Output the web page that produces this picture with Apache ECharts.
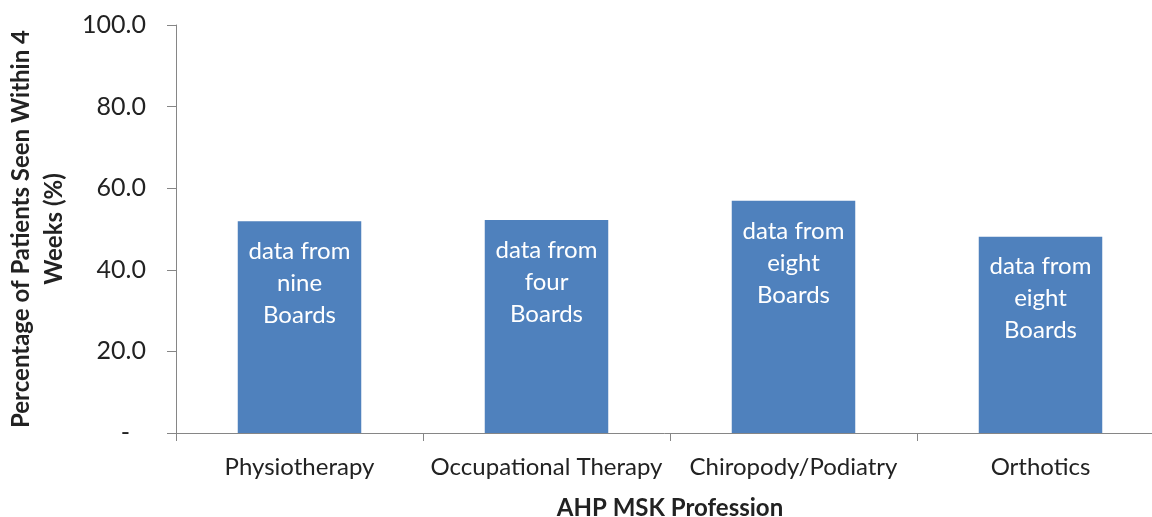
<!DOCTYPE html>
<html><head><meta charset="utf-8">
<script src="https://cdn.jsdelivr.net/npm/echarts@6/dist/echarts.min.js"></script>
<style>html,body{margin:0;padding:0;background:#fff}#c{width:1152px;height:517px}</style>
</head><body><div id="c"></div>
<script>
const categories = ["Physiotherapy", "Occupational Therapy", "Chiropody/Podiatry", "Orthotics"];
const values = [51.9, 52.2, 56.9, 48.1];
const boards = ["nine", "four", "eight", "eight"];
const yTicks = [0, 20, 40, 60, 80, 100];
const yTitle = "Percentage of Patients Seen Within 4\nWeeks (%)";
const xTitle = "AHP MSK Profession";

const FONT = "Lato";
const chart = echarts.init(document.getElementById('c'), null, {renderer: 'canvas'});
chart.setOption({
  animation: false,
  backgroundColor: '#fff',
  grid: {left: 176, right: -12, top: 25, bottom: 84, containLabel: false, outerBoundsMode: 'none'},
  xAxis: {
    type: 'category', data: categories,
    axisLine: {lineStyle: {color: '#868686', width: 1}},
    axisTick: {show: true, length: 8, lineStyle: {color: '#868686'}},
    axisLabel: {color: '#222', fontFamily: FONT, fontSize: 24, margin: 22, interval: 0, hideOverlap: false},
    name: xTitle, nameLocation: 'middle', nameGap: 63,
    nameTextStyle: {color: '#222', fontFamily: FONT, fontSize: 24, fontWeight: 'bold'}
  },
  yAxis: {
    type: 'value', min: yTicks[0], max: yTicks[yTicks.length - 1], interval: 20,
    splitLine: {show: false},
    axisLine: {show: true, lineStyle: {color: '#868686', width: 1}},
    axisTick: {show: true, length: 9, lineStyle: {color: '#868686'}},
    axisLabel: {
      color: '#222', fontFamily: FONT, fontSize: 25, margin: 30,
      formatter: v => v === 0 ? '{d|-}' : v.toFixed(1),
      rich: {d: {color: '#222', fontFamily: FONT, fontSize: 25, padding: [0, 16, 0, 0]}}
    },
    name: yTitle, nameLocation: 'middle', nameRotate: 90, nameGap: 104,
    nameTextStyle: {color: '#222', fontFamily: FONT, fontSize: 24, fontWeight: 'bold', lineHeight: 33, align: 'center'}
  },
  series: [{
    type: 'bar', data: values, barWidth: '50%',
    itemStyle: {color: '#4F81BD'},
    label: {
      show: true, position: 'insideTop', distance: 14,
      color: '#fff', fontFamily: FONT, fontSize: 24, lineHeight: 32,
      formatter: p => 'data from\n' + boards[p.dataIndex] + '\nBoards'
    }
  }]
});
</script></body></html>
